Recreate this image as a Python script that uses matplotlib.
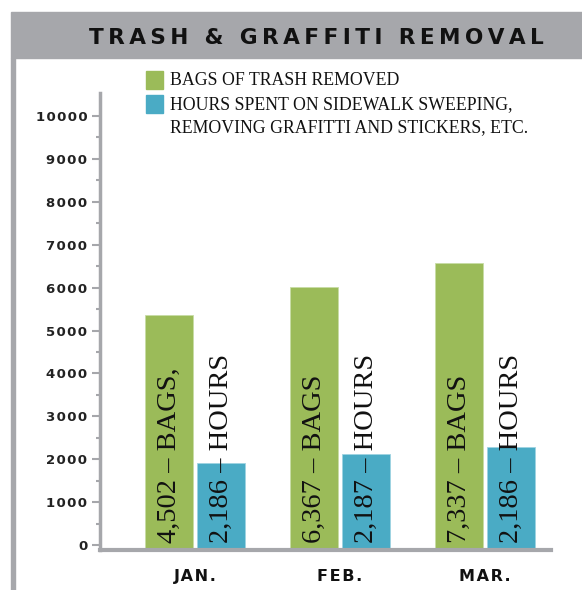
import matplotlib.pyplot as plt
import numpy as np

months = ["JAN.", "FEB.", "MAR."]
bags_height = [5370, 6010, 6580]
hours_height = [1920, 2110, 2290]
bags_labels = ["4,502 – BAGS,", "6,367 – BAGS", "7,337 – BAGS"]
hours_labels = ["2,186 – HOURS", "2,187 – HOURS", "2,186 – HOURS"]
yticks = list(range(0, 10001, 1000))

green = "#9bbb59"
blue = "#4aabc5"
gray = "#a6a7ab"

def spaced(s, sp="\u200a"):
    return sp.join(s)

fig = plt.figure(figsize=(5.82, 5.90), dpi=100)

# frame: gray title band and left rule
fig.patches.append(plt.Rectangle((11/582, 1-58/590), 1, 46/590, transform=fig.transFigure,
                                 color=gray, zorder=0))
fig.patches.append(plt.Rectangle((11/582, 0), 4/582, 1-58/590, transform=fig.transFigure,
                                 color=gray, zorder=0))
title = "TRASH & GRAFFITI REMOVAL"
fig.text(316/582, 1-38/590, spaced(title, "\u2009"), ha="center", va="center",
         fontsize=15.6, fontweight="heavy", family="DejaVu Sans", color="#111111")

ax = fig.add_axes([100/582, 1-550/590, 451/582, 457/590])
x = np.arange(len(months))
w = 0.331
off = 0.179
ylow = -116
ax.bar(x - off, np.array(bags_height) - ylow, w, bottom=ylow, color=green,
       edgecolor="#c8dca6", linewidth=0.6)
ax.bar(x + off, np.array(hours_height) - ylow, w, bottom=ylow, color=blue,
       edgecolor="#9fd3e2", linewidth=0.6)

for i in range(len(months)):
    ax.text(x[i] - off, 50, bags_labels[i], rotation=90, ha="center", va="bottom",
            fontsize=20.5, family="Liberation Serif", color="#111111")
    ax.text(x[i] + off, 50, hours_labels[i], rotation=90, ha="center", va="bottom",
            fontsize=20.5, family="Liberation Serif", color="#111111")

ax.set_xlim(-0.655, 2.455)
ax.set_ylim(ylow, 10536)
ax.set_yticks(yticks)
ax.set_yticklabels([spaced(str(v)) for v in yticks], fontsize=9.5, fontweight="bold",
                   family="DejaVu Sans", color="#222222")
ax.set_yticks(np.arange(500, 10001, 1000), minor=True)
ax.tick_params(axis="y", which="major", length=6, width=1.5, color=gray, pad=3)
ax.tick_params(axis="y", which="minor", length=3, width=1.5, color=gray)
ax.set_xticks(x)
ax.set_xticklabels([spaced(m) for m in months], fontsize=11.5, fontweight="bold",
                   family="DejaVu Sans", color="#111111")
ax.tick_params(axis="x", length=0, pad=14)
for s in ["top", "right"]:
    ax.spines[s].set_visible(False)
ax.spines["left"].set_color(gray)
ax.spines["left"].set_linewidth(2.5)
ax.spines["bottom"].set_color(gray)
ax.spines["bottom"].set_linewidth(3)

# legend
fig.patches.append(plt.Rectangle((146/582, 1-89/590), 17/582, 18/590, transform=fig.transFigure,
                                 color=green))
fig.patches.append(plt.Rectangle((146/582, 1-113/590), 17/582, 18/590, transform=fig.transFigure,
                                 color=blue))
leg_font = dict(fontsize=12.8, family="Liberation Serif", color="#111111", va="center", ha="left")
fig.text(170/582, 1-81/590, "BAGS OF TRASH REMOVED", **leg_font)
fig.text(170/582, 1-105/590, "HOURS SPENT ON SIDEWALK SWEEPING,", **leg_font)
fig.text(170/582, 1-128/590, "REMOVING GRAFITTI AND STICKERS, ETC.", **leg_font)

fig.savefig("out.png", dpi=100)
